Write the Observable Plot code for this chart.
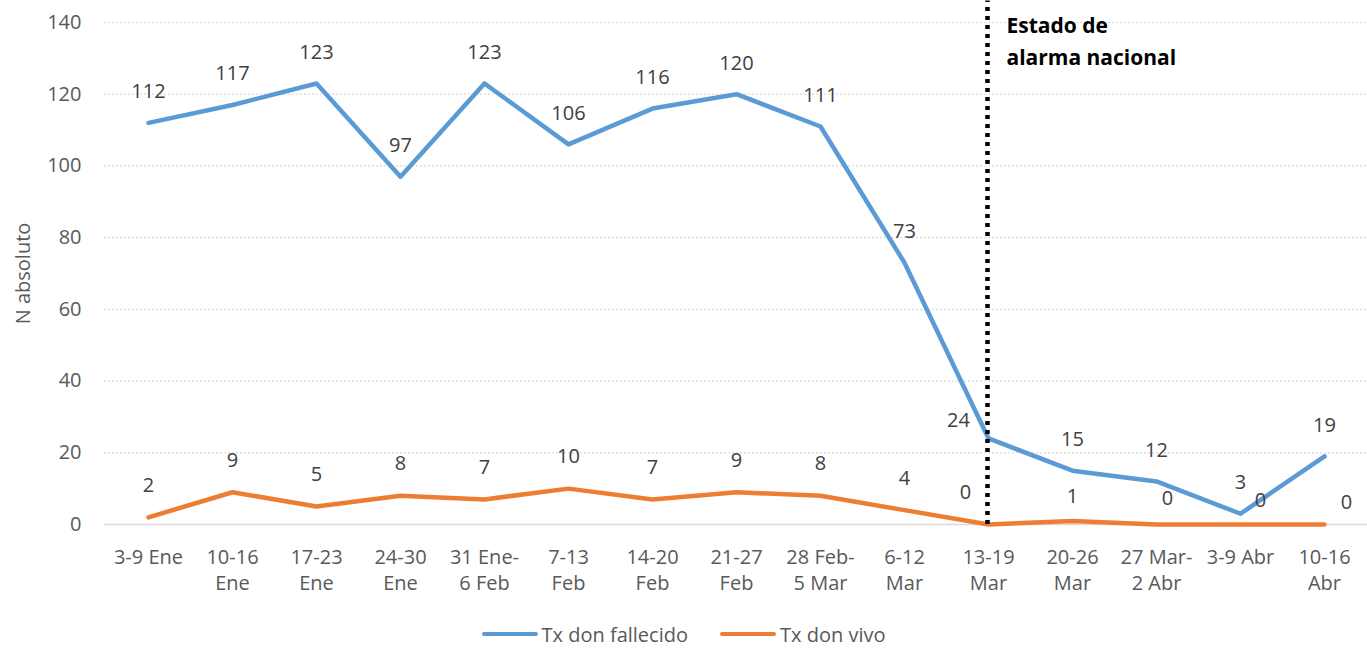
<!DOCTYPE html>
<html>
<head>
<meta charset="utf-8">
<script src="https://cdn.jsdelivr.net/npm/d3@7"></script>
<script src="https://cdn.jsdelivr.net/npm/@observablehq/plot@0.6"></script>
<style>
  html, body { margin: 0; padding: 0; background: #fff; }
  #chart svg { display: block; }
  .legend { display: flex; justify-content: center; align-items: center; height: 38px;
    font-family: "Open Sans", sans-serif; font-size: 20px; color: #595959; gap: 32px; }
  .legend .item { display: flex; align-items: center; }
  .legend .sw { width: 56px; height: 4px; border-radius: 2px; margin-right: 4px; }
</style>
</head>
<body>
<div id="chart"></div>
<div class="legend">
  <div class="item"><span class="sw" style="background:#5B9BD5"></span><span>Tx don fallecido</span></div>
  <div class="item"><span class="sw" style="background:#ED7D31"></span><span>Tx don vivo</span></div>
</div>
<script>
const weeks = ["3-9 Ene", "10-16\nEne", "17-23\nEne", "24-30\nEne", "31 Ene-\n6 Feb", "7-13\nFeb",
  "14-20\nFeb", "21-27\nFeb", "28 Feb-\n5 Mar", "6-12\nMar", "13-19\nMar", "20-26\nMar",
  "27 Mar-\n2 Abr", "3-9 Abr", "10-16\nAbr"];
const fallecido = [112, 117, 123, 97, 123, 106, 116, 120, 111, 73, 24, 15, 12, 3, 19];
const vivo = [2, 9, 5, 8, 7, 10, 7, 9, 8, 4, 0, 1, 0, 0, 0];
const yTicks = [0, 20, 40, 60, 80, 100, 120, 140];
const seriesNames = ["Tx don fallecido", "Tx don vivo"];
const colors = ["#5B9BD5", "#ED7D31"];
const eventWeek = "13-19\nMar";
const eventLabel = "Estado de\nalarma nacional";

const rows = [];
weeks.forEach((w, i) => {
  rows.push({week: w, i, series: seriesNames[0], value: fallecido[i]});
  rows.push({week: w, i, series: seriesNames[1], value: vivo[i]});
});

const font = "'Open Sans', sans-serif";
function labels(series, idxs, dx, dy) {
  return Plot.text(rows.filter(d => d.series === series && idxs.includes(d.i)), {
    x: "week", y: "value", text: d => String(d.value), dx, dy,
    fill: "#404040", fontSize: 20, fontFamily: font
  });
}
const allIdx = weeks.map((_, i) => i);

const chart = Plot.plot({
  width: 1367,
  height: 615,
  marginTop: 22,
  marginBottom: 91,
  marginLeft: 104,
  marginRight: 0,
  style: {fontFamily: font, fontSize: "20px", color: "#595959", background: "#fff"},
  x: {type: "point", domain: weeks, padding: 0.5, label: null},
  y: {domain: [0, 140], label: null},
  color: {domain: seriesNames, range: colors},
  marks: [
    Plot.gridY(yTicks, {stroke: "#d9d9d9", strokeOpacity: 1, strokeDasharray: "2,2", strokeWidth: 1.2}),
    Plot.ruleY([0], {stroke: "#d9d9d9", strokeWidth: 1.5}),
    Plot.axisY(yTicks, {tickSize: 0, tickPadding: 23, fill: "#595959", fontSize: 20,
      label: "N absoluto", labelAnchor: "center", labelArrow: "none", labelOffset: 89}),
    Plot.axisX({tickSize: 0, tickPadding: 21, fill: "#595959", fontSize: 20, lineHeight: 1.3, lineAnchor: "top"}),
    Plot.line(rows, {x: "week", y: "value", stroke: "series", strokeWidth: 4.5,
      strokeLinecap: "round", strokeLinejoin: "round"}),
    Plot.ruleX([eventWeek], {y1: 0, y2: 146, stroke: "#000", strokeWidth: 4.5, strokeDasharray: "4,5", dx: -1}),
    Plot.text([eventLabel], {x: () => eventWeek, y: () => 140, text: d => d, dx: 18, dy: -13,
      textAnchor: "start", lineAnchor: "top", lineHeight: 1.55, fontWeight: "bold",
      fontSize: 21, fill: "#000", fontFamily: font}),
    labels(seriesNames[0], allIdx.filter(i => i !== 10), 0, -31),
    labels(seriesNames[0], [10], -30, -18),
    labels(seriesNames[1], allIdx.filter(i => i < 10), 0, -32),
    labels(seriesNames[1], [10], -23, -32),
    labels(seriesNames[1], [11], 0, -24),
    labels(seriesNames[1], [12], 11, -26),
    labels(seriesNames[1], [13], 20, -24),
    labels(seriesNames[1], [14], 22, -22)
  ]
});
document.getElementById("chart").appendChild(chart);
</script>
</body>
</html>
